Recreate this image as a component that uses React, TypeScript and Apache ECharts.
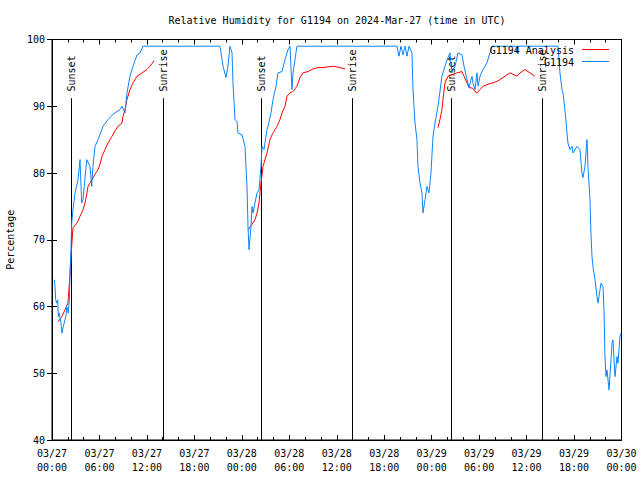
import React, { useEffect, useRef } from "react";
import * as echarts from "echarts";

const TITLE = "Relative Humidity for G1194 on 2024-Mar-27 (time in UTC)";
const Y_NAME = "Percentage";
const FONT = "DejaVu Sans Mono";

// hours since 2024-03-27 00:00 UTC
const blueHours = [
  0.29, 0.38, 0.47, 0.59, 0.72, 0.8, 0.92, 1.01, 1.14, 1.26, 1.43, 1.64, 1.77, 1.86, 1.98, 2.06, 2.19, 2.28, 2.4, 2.49,
  2.65, 2.91, 3.29, 3.54, 3.75, 3.92, 4.39, 4.8, 5.02, 5.18, 5.44, 5.82, 6.45, 7.08, 7.71, 8.6, 8.85, 9.23, 9.48, 9.86,
  10.24, 10.75, 11.13, 11.5, 21.24, 21.62, 22.0, 22.25, 22.5, 22.76, 22.88, 23.14, 23.39, 23.51, 24.02, 24.4, 24.65,
  24.78, 24.91, 25.16, 25.28, 25.41, 25.66, 25.92, 26.17, 26.42, 26.55, 26.8, 27.18, 27.31, 27.69, 27.94, 28.32, 28.57,
  29.08, 29.46, 29.84, 30.09, 30.34, 30.47, 30.97, 43.62, 43.87, 44.12, 44.37, 44.63, 44.88, 45.13, 45.51, 45.64, 45.89,
  46.14, 46.27, 46.52, 46.78, 46.9, 47.16, 47.41, 47.66, 47.91, 48.17, 48.42, 48.8, 49.3, 49.68, 50.06, 50.32, 50.57,
  50.95, 51.33, 51.83, 52.09, 52.47, 52.72, 53.1, 53.22, 53.48, 53.73, 53.86, 54.11, 54.49, 54.99, 55.37, 55.63, 58.66,
  58.79, 58.91, 63.97, 64.22, 64.48, 64.6, 64.85, 65.11, 65.23, 65.49, 65.74, 65.87, 66.37, 66.75, 67.0, 67.13, 67.38,
  67.64, 67.76, 68.02, 68.14, 68.27, 68.39, 68.65, 68.9, 69.03, 69.41, 69.66, 69.79, 69.91, 70.04, 70.17, 70.42, 70.67,
  70.8, 70.92, 71.18, 71.43, 71.55, 71.81, 71.93,
];
const blueValues = [
  64, 63, 61, 60.5, 61, 58.5, 59, 58.3, 57.5, 56, 57, 58, 58.7, 60, 59.5, 59, 61, 65, 68.5, 72.5,
  74.5, 77, 79, 82, 75.5, 76, 82, 81, 78, 81, 84, 85, 87, 88, 88.8, 89.5, 90, 89, 92, 94.5,
  96, 97.7, 98, 99, 99, 96, 94.3, 96, 99, 98, 93.5, 88, 87.7, 86, 85.7, 84, 78,
  72, 68.5, 72, 75, 74, 75.5, 77, 77.5, 81, 84, 83.5, 86.5, 87, 89, 91, 93, 95,
  95.2, 97, 98.5, 99, 92.5, 95, 99, 99, 97.5, 99, 97.7, 99, 97.5, 99, 98, 92.5, 87.5,
  85, 81, 78.5, 77, 74, 76, 78, 77, 80, 85.5, 87.5, 90, 94.5, 96, 97.3, 98, 95,
  96, 98, 97.7, 96, 94, 92.8, 94.5, 93.5, 92.5, 95, 93, 94.5, 95.5, 96.5, 98, 99, 99,
  98, 99, 99, 95, 92.5, 92, 89.5, 86, 84.5, 83.5, 84, 83, 84, 83.5, 80, 79.3, 81,
  85, 81, 76, 71, 67.5, 66, 64, 61.5, 60.5, 63.5, 63, 59.5, 52.5, 49.5, 50.5, 47.5, 52,
  54.5, 55, 49.5, 52.5, 51.5, 55.5, 56,
];

// null marks a gap between analysis segments
const redHours = [
  0.76, 1.26, 1.64, 2.02, 2.28, 2.49, 2.65, 3.16, 3.54, 3.92, 4.17, 4.42, 4.55, 5.06, 5.44, 5.82, 6.07, 6.32, 6.7, 7.08,
  7.59, 7.96, 8.34, 8.85, 8.98, 9.23, 9.48, 9.86, 10.24, 10.75, 11.38, 12.01, 12.39, 12.9, 18.0,
  24.78, 25.28, 25.66, 25.92, 26.17, 26.42, 26.68, 26.93, 27.18, 27.56, 27.81, 28.19, 28.45, 28.82, 29.08, 29.46, 29.71,
  30.09, 30.47, 30.97, 31.35, 31.73, 32.36, 33.0, 33.63, 34.26, 35.52, 36.41, 37.04, 42.0,
  48.8, 49.05, 49.3, 49.43, 49.68, 50.06, 50.7, 51.2, 51.83, 52.09, 52.47, 52.72, 53.22, 53.48, 53.73, 54.11, 54.49,
  55.12, 55.75, 56.38, 57.02, 57.9, 58.79, 59.17, 59.8, 60.43, 61.06,
];
const redValues = [
  57.7, 58.5, 59.5, 60.5, 65, 69, 71.8, 72.5, 73.5, 74.5, 75.5, 77, 78, 79, 79.8, 80.5, 81.3, 82.5, 83.5, 84.5,
  85.5, 86.3, 87, 87.5, 88.5, 89.5, 91, 92.5, 93.5, 94.5, 95, 95.5, 96, 96.8, null,
  71.5, 72.3, 73, 74, 75.5, 78.5, 81, 82, 83, 85, 85.7, 86.5, 87, 88, 89, 90, 91.5,
  92, 92.2, 93, 94.3, 95, 95.2, 95.6, 95.8, 95.8, 96, 95.8, 95.6, null,
  86.8, 88, 89.5, 91, 93.5, 94.5, 94.8, 95, 95.2, 94.5, 93.5, 92.8, 92.7, 92.2, 92, 92.5, 93,
  93.3, 93.5, 93.8, 94.3, 95, 94.5, 95, 95.5, 95, 94.5,
];

const eventHours = [2.46, 14.06, 26.4, 37.93, 50.4, 61.93];
const eventLabels = ["Sunset", "Sunrise", "Sunset", "Sunrise", "Sunset", "Sunrise"];

const seriesNames = ["G1194 Analysis", "G1194"];
const seriesColors = ["#ff0000", "#0a84ff"];

const Y_MIN = 40;
const Y_MAX = 100;
const X_MIN = 0;
const X_MAX = 72;

function fmtHour(h: number): string {
  const day = 27 + Math.floor(h / 24);
  const hh = Math.round(h % 24);
  return `03/${day}\n${String(hh).padStart(2, "0")}:00`;
}

export default function App() {
  const ref = useRef<HTMLDivElement>(null);

  useEffect(() => {
    document.body.style.margin = "0";
    if (!ref.current) return;
    const chart = echarts.init(ref.current, null, { renderer: "svg" });

    const axisCommon = {
      type: "value" as const,
      min: X_MIN,
      max: X_MAX,
      interval: 6,
      axisLine: { show: true, lineStyle: { color: "#000", width: 1 } },
      axisTick: { show: true, inside: true, length: 5, lineStyle: { color: "#000" } },
      minorTick: { show: true, splitNumber: 3, length: 3, lineStyle: { color: "#000" } },
      splitLine: { show: false },
    };
    const yCommon = {
      type: "value" as const,
      min: Y_MIN,
      max: Y_MAX,
      interval: 10,
      axisLine: { show: true, lineStyle: { color: "#000", width: 1 } },
      axisTick: { show: true, inside: true, length: 5, lineStyle: { color: "#000" } },
      splitLine: { show: false },
    };

    const redData = redHours.map((h, i) => [h, redValues[i] === null ? "-" : redValues[i]]);
    const blueData = blueHours.map((h, i) => [h, blueValues[i]]);

    // legend drawn as text + sample line, text to the left of the sample
    const legendGraphics: any[] = [];
    seriesNames.forEach((name, i) => {
      const rowY = 49.5 + i * 12;
      legendGraphics.push({
        type: "text",
        x: 574,
        y: rowY + 1,
        z: 100,
        style: { text: name, align: "right", verticalAlign: "middle", font: `10px "${FONT}"`, fill: "#000" },
      });
      legendGraphics.push({
        type: "line",
        z: 100,
        shape: { x1: 582, y1: rowY, x2: 609, y2: rowY },
        style: { stroke: seriesColors[i], lineWidth: 1 },
      });
    });

    chart.setOption({
      animation: false,
      backgroundColor: "#fff",
      textStyle: { fontFamily: FONT },
      title: {
        text: TITLE,
        left: 332,
        top: 10,
        textAlign: "center",
        textStyle: { fontFamily: FONT, fontSize: 10, fontWeight: "normal", color: "#000" },
      },
      graphic: legendGraphics,
      grid: {
        left: 52,
        right: 18.5,
        top: 39.5,
        bottom: 40,
        show: true,
        borderColor: "#000",
        borderWidth: 1,
        outerBoundsMode: "none",
        containLabel: false,
      },
      xAxis: [
        {
          ...axisCommon,
          position: "bottom",
          axisLabel: {
            show: true,
            formatter: (v: number) => fmtHour(v),
            fontFamily: FONT,
            fontSize: 10,
            color: "#000",
            lineHeight: 14,
            margin: 6,
            showMinLabel: true,
            showMaxLabel: true,
          },
        },
        { ...axisCommon, position: "top", axisLabel: { show: false } },
      ],
      yAxis: [
        {
          ...yCommon,
          position: "left",
          name: Y_NAME,
          nameLocation: "middle",
          nameGap: 37,
          nameTextStyle: { fontFamily: FONT, fontSize: 10, color: "#000" },
          axisLabel: { fontFamily: FONT, fontSize: 10, color: "#000", margin: 7 },
        },
        { ...yCommon, position: "right", axisLabel: { show: false } },
      ],
      series: [
        {
          type: "custom",
          name: "events",
          xAxisIndex: 0,
          yAxisIndex: 0,
          silent: true,
          data: eventHours.map((h) => [h, Y_MIN]),
          renderItem: (params: any, api: any) => {
            const h = api.value(0);
            const top = api.coord([h, 91.2]);
            const bot = api.coord([h, Y_MIN]);
            const tp = api.coord([h, 92.2]);
            return {
              type: "group",
              children: [
                {
                  type: "line",
                  shape: { x1: Math.round(top[0]) + 0.5, y1: top[1], x2: Math.round(bot[0]) + 0.5, y2: bot[1] },
                  style: { stroke: "#000", lineWidth: 1 },
                },
                {
                  type: "text",
                  x: Math.round(tp[0]) + 0.5,
                  y: tp[1],
                  rotation: Math.PI / 2,
                  style: {
                    text: eventLabels[params.dataIndex],
                    align: "left",
                    verticalAlign: "middle",
                    font: `10px "${FONT}"`,
                    fill: "#000",
                  },
                },
              ],
            };
          },
        },
        {
          type: "line",
          name: seriesNames[0],
          data: redData,
          symbol: "none",
          connectNulls: false,
          lineStyle: { color: seriesColors[0], width: 1 },
          itemStyle: { color: seriesColors[0] },
        },
        {
          type: "line",
          name: seriesNames[1],
          data: blueData,
          symbol: "none",
          lineStyle: { color: seriesColors[1], width: 1 },
          itemStyle: { color: seriesColors[1] },
        },
      ],
    });

    return () => chart.dispose();
  }, []);

  return <div ref={ref} style={{ width: 640, height: 480 }} />;
}
